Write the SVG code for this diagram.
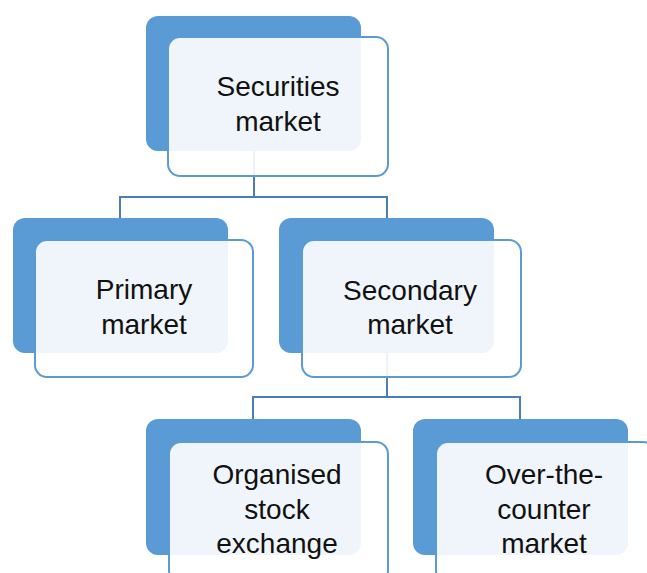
<svg xmlns="http://www.w3.org/2000/svg" width="647" height="573" viewBox="0 0 647 573">
<style>
.back{fill:#5B9BD5;}
.front{fill:#ffffff;fill-opacity:0.9;stroke:#5B9BD5;stroke-width:2;}
.lbl{font-family:"Liberation Sans",Arial,sans-serif;font-size:28px;fill:#111;text-anchor:middle;}
.conn{fill:none;stroke:#4A7EB5;stroke-width:2;}
</style>
<rect width="647" height="573" fill="#ffffff"/>
<g id="backs">
<rect class="back" x="146" y="16" width="215" height="135" rx="12"/>
<rect class="back" x="13" y="218" width="215" height="135" rx="12"/>
<rect class="back" x="279" y="218" width="215" height="135" rx="12"/>
<rect class="back" x="146" y="419" width="215" height="136" rx="12"/>
<rect class="back" x="413" y="419" width="215" height="136" rx="12"/>
</g>
<g id="connectors">
<path class="conn" d="M254 151 V197 M120 197 H387 M120 196 V218 M387 196 V218"/>
<path class="conn" d="M387 353 V397 M253 397 H520 M253 396 V419 M520 396 V419"/>
</g>
<g id="node-securities">
<rect class="front" x="168" y="37" width="220" height="139" rx="12"/>
<text class="lbl" x="278" y="96">Securities</text>
<text class="lbl" x="278" y="131">market</text>
</g>
<g id="node-primary">
<rect class="front" x="35" y="240" width="218" height="137" rx="12"/>
<text class="lbl" x="144" y="299">Primary</text>
<text class="lbl" x="144" y="334">market</text>
</g>
<g id="node-secondary">
<rect class="front" x="302" y="240" width="219" height="137" rx="12"/>
<text class="lbl" x="410" y="300">Secondary</text>
<text class="lbl" x="410" y="334">market</text>
</g>
<g id="node-organised">
<rect class="front" x="169" y="442" width="219" height="140" rx="12"/>
<text class="lbl" x="277" y="484">Organised</text>
<text class="lbl" x="277" y="519">stock</text>
<text class="lbl" x="277" y="553">exchange</text>
</g>
<g id="node-otc">
<rect class="front" x="436" y="442" width="219" height="140" rx="12"/>
<text class="lbl" x="544" y="484">Over-the-</text>
<text class="lbl" x="544" y="519">counter</text>
<text class="lbl" x="544" y="553">market</text>
</g>
</svg>
